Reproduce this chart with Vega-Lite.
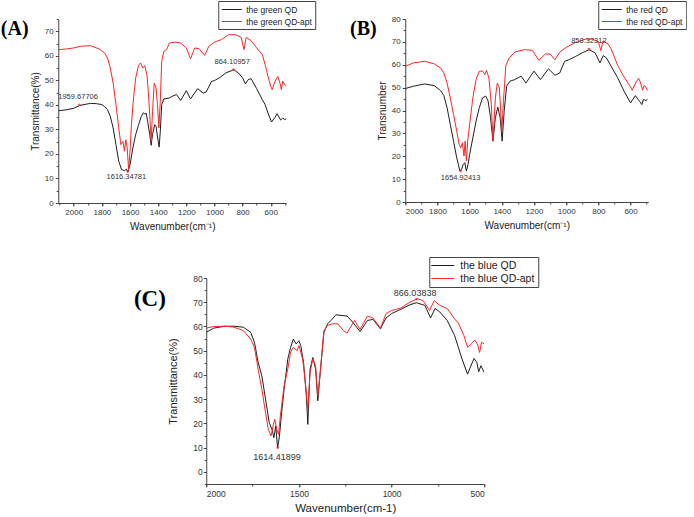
{
"$schema":"https://vega.github.io/schema/vega-lite/v6.json",
"background":"white",
"padding":{"left":0,"top":0,"right":0,"bottom":0},
"config":{"view":{"stroke":null},
 "axis":{"labelFont":"Liberation Sans","titleFont":"Liberation Sans","labelColor":"#333","titleColor":"#222","domainColor":"#444","tickColor":"#444","grid":false,"labelFontSize":8,"titleFontSize":10,"titleFontWeight":"normal","tickSize":3,"labelPadding":2,"format":"d"},
 "legend":{"labelFont":"Liberation Sans","labelFontSize":8.5,"labelColor":"#222","strokeColor":"#444","fillColor":"white","padding":3,"symbolType":"M-2,0H2","symbolSize":100,"symbolOffset":5,"labelOffset":9,"symbolStrokeWidth":1,"rowPadding":2,"title":null},
 "title":{"font":"Liberation Serif","fontSize":20,"fontWeight":"bold","color":"#000"}
},
"datasets":{
"A":[
{"w":2109,"t":37.6,"s":"the green QD"},{"w":2050,"t":38.0,"s":"the green QD"},{"w":2000,"t":38.6,"s":"the green QD"},{"w":1960,"t":39.7,"s":"the green QD"},{"w":1920,"t":40.2,"s":"the green QD"},{"w":1880,"t":40.6,"s":"the green QD"},{"w":1840,"t":40.5,"s":"the green QD"},{"w":1800,"t":40.1,"s":"the green QD"},{"w":1780,"t":39.3,"s":"the green QD"},{"w":1760,"t":38,"s":"the green QD"},{"w":1740,"t":35.3,"s":"the green QD"},{"w":1720,"t":30.6,"s":"the green QD"},{"w":1700,"t":23.8,"s":"the green QD"},{"w":1680,"t":17,"s":"the green QD"},{"w":1660,"t":13.6,"s":"the green QD"},{"w":1640,"t":13.2,"s":"the green QD"},{"w":1625,"t":13.8,"s":"the green QD"},{"w":1616,"t":12.6,"s":"the green QD"},{"w":1600,"t":15.6,"s":"the green QD"},{"w":1580,"t":22.4,"s":"the green QD"},{"w":1560,"t":27.9,"s":"the green QD"},{"w":1540,"t":31.7,"s":"the green QD"},{"w":1520,"t":35.3,"s":"the green QD"},{"w":1505,"t":36.8,"s":"the green QD"},{"w":1495,"t":36.2,"s":"the green QD"},{"w":1485,"t":36.6,"s":"the green QD"},{"w":1475,"t":33.3,"s":"the green QD"},{"w":1460,"t":27.9,"s":"the green QD"},{"w":1450,"t":23.5,"s":"the green QD"},{"w":1440,"t":27.9,"s":"the green QD"},{"w":1425,"t":31.9,"s":"the green QD"},{"w":1415,"t":31.2,"s":"the green QD"},{"w":1400,"t":25.1,"s":"the green QD"},{"w":1393,"t":22.8,"s":"the green QD"},{"w":1385,"t":29.2,"s":"the green QD"},{"w":1375,"t":40,"s":"the green QD"},{"w":1360,"t":42.4,"s":"the green QD"},{"w":1320,"t":42.8,"s":"the green QD"},{"w":1300,"t":43.5,"s":"the green QD"},{"w":1270,"t":44.2,"s":"the green QD"},{"w":1240,"t":41.8,"s":"the green QD"},{"w":1200,"t":45.8,"s":"the green QD"},{"w":1170,"t":42.4,"s":"the green QD"},{"w":1120,"t":46.6,"s":"the green QD"},{"w":1080,"t":44.8,"s":"the green QD"},{"w":1060,"t":45.2,"s":"the green QD"},{"w":1020,"t":49.6,"s":"the green QD"},{"w":1000,"t":49.9,"s":"the green QD"},{"w":960,"t":51.2,"s":"the green QD"},{"w":920,"t":53,"s":"the green QD"},{"w":864,"t":54.3,"s":"the green QD"},{"w":830,"t":53,"s":"the green QD"},{"w":800,"t":51,"s":"the green QD"},{"w":780,"t":48.5,"s":"the green QD"},{"w":760,"t":50.3,"s":"the green QD"},{"w":740,"t":50.7,"s":"the green QD"},{"w":700,"t":46.6,"s":"the green QD"},{"w":660,"t":42.1,"s":"the green QD"},{"w":640,"t":40.1,"s":"the green QD"},{"w":620,"t":36.7,"s":"the green QD"},{"w":595,"t":33,"s":"the green QD"},{"w":570,"t":34.9,"s":"the green QD"},{"w":555,"t":36.4,"s":"the green QD"},{"w":530,"t":33.8,"s":"the green QD"},{"w":515,"t":34.6,"s":"the green QD"},{"w":500,"t":34,"s":"the green QD"},{"w":490,"t":34.4,"s":"the green QD"},
{"w":2109,"t":62.5,"s":"the green QD-apt"},{"w":2050,"t":62.8,"s":"the green QD-apt"},{"w":2000,"t":63.2,"s":"the green QD-apt"},{"w":1950,"t":63.9,"s":"the green QD-apt"},{"w":1880,"t":64.1,"s":"the green QD-apt"},{"w":1820,"t":62.8,"s":"the green QD-apt"},{"w":1780,"t":61.1,"s":"the green QD-apt"},{"w":1760,"t":59.1,"s":"the green QD-apt"},{"w":1740,"t":55,"s":"the green QD-apt"},{"w":1720,"t":48.9,"s":"the green QD-apt"},{"w":1700,"t":40.1,"s":"the green QD-apt"},{"w":1680,"t":30.6,"s":"the green QD-apt"},{"w":1665,"t":23.8,"s":"the green QD-apt"},{"w":1650,"t":25.1,"s":"the green QD-apt"},{"w":1640,"t":21.1,"s":"the green QD-apt"},{"w":1630,"t":25.8,"s":"the green QD-apt"},{"w":1620,"t":22.4,"s":"the green QD-apt"},{"w":1610,"t":13.6,"s":"the green QD-apt"},{"w":1600,"t":21.1,"s":"the green QD-apt"},{"w":1590,"t":31.9,"s":"the green QD-apt"},{"w":1575,"t":42.8,"s":"the green QD-apt"},{"w":1560,"t":50.9,"s":"the green QD-apt"},{"w":1540,"t":56.1,"s":"the green QD-apt"},{"w":1525,"t":57.1,"s":"the green QD-apt"},{"w":1510,"t":55,"s":"the green QD-apt"},{"w":1495,"t":56,"s":"the green QD-apt"},{"w":1480,"t":52.3,"s":"the green QD-apt"},{"w":1470,"t":45.5,"s":"the green QD-apt"},{"w":1460,"t":36,"s":"the green QD-apt"},{"w":1450,"t":25.1,"s":"the green QD-apt"},{"w":1440,"t":37.4,"s":"the green QD-apt"},{"w":1428,"t":48.9,"s":"the green QD-apt"},{"w":1415,"t":46.9,"s":"the green QD-apt"},{"w":1405,"t":40.1,"s":"the green QD-apt"},{"w":1395,"t":30.6,"s":"the green QD-apt"},{"w":1385,"t":41.4,"s":"the green QD-apt"},{"w":1375,"t":57.7,"s":"the green QD-apt"},{"w":1360,"t":61.8,"s":"the green QD-apt"},{"w":1340,"t":62.5,"s":"the green QD-apt"},{"w":1320,"t":65.2,"s":"the green QD-apt"},{"w":1280,"t":65.6,"s":"the green QD-apt"},{"w":1240,"t":65.2,"s":"the green QD-apt"},{"w":1200,"t":63.2,"s":"the green QD-apt"},{"w":1170,"t":58.8,"s":"the green QD-apt"},{"w":1140,"t":63.2,"s":"the green QD-apt"},{"w":1110,"t":62.9,"s":"the green QD-apt"},{"w":1070,"t":60.2,"s":"the green QD-apt"},{"w":1040,"t":63.9,"s":"the green QD-apt"},{"w":1000,"t":65.6,"s":"the green QD-apt"},{"w":950,"t":66.6,"s":"the green QD-apt"},{"w":900,"t":68.6,"s":"the green QD-apt"},{"w":850,"t":68.6,"s":"the green QD-apt"},{"w":810,"t":67.5,"s":"the green QD-apt"},{"w":790,"t":62.5,"s":"the green QD-apt"},{"w":775,"t":67.5,"s":"the green QD-apt"},{"w":740,"t":66.2,"s":"the green QD-apt"},{"w":700,"t":63.2,"s":"the green QD-apt"},{"w":660,"t":60.5,"s":"the green QD-apt"},{"w":640,"t":56.4,"s":"the green QD-apt"},{"w":620,"t":51.6,"s":"the green QD-apt"},{"w":600,"t":47.6,"s":"the green QD-apt"},{"w":590,"t":46.2,"s":"the green QD-apt"},{"w":570,"t":49.6,"s":"the green QD-apt"},{"w":550,"t":51.6,"s":"the green QD-apt"},{"w":535,"t":48.9,"s":"the green QD-apt"},{"w":525,"t":46.2,"s":"the green QD-apt"},{"w":515,"t":49.6,"s":"the green QD-apt"},{"w":500,"t":48.2,"s":"the green QD-apt"},{"w":490,"t":47.6,"s":"the green QD-apt"}
],
"Am":[{"w":1960,"t":40},{"w":1616,"t":12.8},{"w":864,"t":54.3}],
"Al":[{"w":1969,"t":43.2,"label":"1959.67706"},{"w":1626,"t":10.5,"label":"1616.34781"},{"w":874,"t":57.5,"label":"864.10957"}],
"B":[
{"w":2000,"t":49.6,"s":"the red QD"},{"w":1950,"t":50.6,"s":"the red QD"},{"w":1880,"t":51.6,"s":"the red QD"},{"w":1820,"t":50.9,"s":"the red QD"},{"w":1780,"t":48.7,"s":"the red QD"},{"w":1760,"t":46.5,"s":"the red QD"},{"w":1740,"t":41.2,"s":"the red QD"},{"w":1720,"t":33.9,"s":"the red QD"},{"w":1700,"t":26.6,"s":"the red QD"},{"w":1680,"t":19.3,"s":"the red QD"},{"w":1660,"t":13.5,"s":"the red QD"},{"w":1650,"t":14.3,"s":"the red QD"},{"w":1640,"t":16.4,"s":"the red QD"},{"w":1630,"t":17.2,"s":"the red QD"},{"w":1620,"t":13.5,"s":"the red QD"},{"w":1610,"t":16.4,"s":"the red QD"},{"w":1600,"t":20.7,"s":"the red QD"},{"w":1580,"t":28.1,"s":"the red QD"},{"w":1560,"t":35.3,"s":"the red QD"},{"w":1540,"t":41.2,"s":"the red QD"},{"w":1520,"t":45.5,"s":"the red QD"},{"w":1500,"t":46.3,"s":"the red QD"},{"w":1485,"t":44.1,"s":"the red QD"},{"w":1470,"t":36.8,"s":"the red QD"},{"w":1455,"t":26.6,"s":"the red QD"},{"w":1440,"t":36.8,"s":"the red QD"},{"w":1425,"t":41.5,"s":"the red QD"},{"w":1410,"t":36.8,"s":"the red QD"},{"w":1398,"t":26.6,"s":"the red QD"},{"w":1385,"t":40,"s":"the red QD"},{"w":1370,"t":50.6,"s":"the red QD"},{"w":1350,"t":52.8,"s":"the red QD"},{"w":1320,"t":53.5,"s":"the red QD"},{"w":1280,"t":55,"s":"the red QD"},{"w":1250,"t":52,"s":"the red QD"},{"w":1200,"t":57.2,"s":"the red QD"},{"w":1160,"t":53.5,"s":"the red QD"},{"w":1110,"t":58.2,"s":"the red QD"},{"w":1070,"t":55.4,"s":"the red QD"},{"w":1040,"t":56.4,"s":"the red QD"},{"w":1010,"t":61.5,"s":"the red QD"},{"w":980,"t":62.3,"s":"the red QD"},{"w":940,"t":63.7,"s":"the red QD"},{"w":900,"t":65.2,"s":"the red QD"},{"w":858,"t":66.6,"s":"the red QD"},{"w":820,"t":65.2,"s":"the red QD"},{"w":790,"t":60.8,"s":"the red QD"},{"w":770,"t":64,"s":"the red QD"},{"w":750,"t":63,"s":"the red QD"},{"w":720,"t":59.3,"s":"the red QD"},{"w":680,"t":54.3,"s":"the red QD"},{"w":640,"t":48.4,"s":"the red QD"},{"w":600,"t":43.3,"s":"the red QD"},{"w":570,"t":46.5,"s":"the red QD"},{"w":545,"t":44.1,"s":"the red QD"},{"w":530,"t":42.6,"s":"the red QD"},{"w":520,"t":44.8,"s":"the red QD"},{"w":505,"t":44.4,"s":"the red QD"},{"w":495,"t":44.8,"s":"the red QD"},
{"w":2000,"t":59.3,"s":"the red QD-apt"},{"w":1950,"t":60.8,"s":"the red QD-apt"},{"w":1880,"t":61.5,"s":"the red QD-apt"},{"w":1820,"t":60.4,"s":"the red QD-apt"},{"w":1780,"t":58.6,"s":"the red QD-apt"},{"w":1760,"t":56.4,"s":"the red QD-apt"},{"w":1740,"t":52,"s":"the red QD-apt"},{"w":1720,"t":45.5,"s":"the red QD-apt"},{"w":1700,"t":38.3,"s":"the red QD-apt"},{"w":1680,"t":31,"s":"the red QD-apt"},{"w":1665,"t":25.2,"s":"the red QD-apt"},{"w":1655,"t":23.7,"s":"the red QD-apt"},{"w":1645,"t":25.9,"s":"the red QD-apt"},{"w":1635,"t":20.1,"s":"the red QD-apt"},{"w":1628,"t":26.6,"s":"the red QD-apt"},{"w":1620,"t":17.9,"s":"the red QD-apt"},{"w":1612,"t":26.6,"s":"the red QD-apt"},{"w":1600,"t":33.9,"s":"the red QD-apt"},{"w":1580,"t":45.5,"s":"the red QD-apt"},{"w":1560,"t":53.5,"s":"the red QD-apt"},{"w":1540,"t":57.2,"s":"the red QD-apt"},{"w":1520,"t":57.2,"s":"the red QD-apt"},{"w":1505,"t":55.7,"s":"the red QD-apt"},{"w":1495,"t":57.6,"s":"the red QD-apt"},{"w":1480,"t":54.2,"s":"the red QD-apt"},{"w":1465,"t":42.6,"s":"the red QD-apt"},{"w":1455,"t":26.6,"s":"the red QD-apt"},{"w":1440,"t":45.5,"s":"the red QD-apt"},{"w":1428,"t":52,"s":"the red QD-apt"},{"w":1415,"t":49.8,"s":"the red QD-apt"},{"w":1400,"t":31,"s":"the red QD-apt"},{"w":1390,"t":43.9,"s":"the red QD-apt"},{"w":1375,"t":59.7,"s":"the red QD-apt"},{"w":1355,"t":62.9,"s":"the red QD-apt"},{"w":1320,"t":65.5,"s":"the red QD-apt"},{"w":1260,"t":66.6,"s":"the red QD-apt"},{"w":1210,"t":66.3,"s":"the red QD-apt"},{"w":1170,"t":61.9,"s":"the red QD-apt"},{"w":1130,"t":64.7,"s":"the red QD-apt"},{"w":1100,"t":64.7,"s":"the red QD-apt"},{"w":1070,"t":62.2,"s":"the red QD-apt"},{"w":1040,"t":65.5,"s":"the red QD-apt"},{"w":1000,"t":67.6,"s":"the red QD-apt"},{"w":950,"t":69.5,"s":"the red QD-apt"},{"w":880,"t":71.2,"s":"the red QD-apt"},{"w":840,"t":71.2,"s":"the red QD-apt"},{"w":800,"t":70.1,"s":"the red QD-apt"},{"w":785,"t":66.2,"s":"the red QD-apt"},{"w":770,"t":70.5,"s":"the red QD-apt"},{"w":740,"t":69.1,"s":"the red QD-apt"},{"w":720,"t":66.9,"s":"the red QD-apt"},{"w":680,"t":59.7,"s":"the red QD-apt"},{"w":640,"t":54.6,"s":"the red QD-apt"},{"w":600,"t":50.3,"s":"the red QD-apt"},{"w":590,"t":48.8,"s":"the red QD-apt"},{"w":565,"t":52.5,"s":"the red QD-apt"},{"w":550,"t":54.1,"s":"the red QD-apt"},{"w":540,"t":52.6,"s":"the red QD-apt"},{"w":525,"t":48.9,"s":"the red QD-apt"},{"w":515,"t":51,"s":"the red QD-apt"},{"w":505,"t":50.3,"s":"the red QD-apt"},{"w":495,"t":48.8,"s":"the red QD-apt"}
],
"Bm":[{"w":1655,"t":13.5},{"w":858,"t":66.8}],
"Bl":[{"w":1656,"t":10.6,"label":"1654.92413"},{"w":859,"t":70.3,"label":"858.32312"}],
"C":[
{"w":2000,"t":57.6,"s":"the blue QD"},{"w":1960,"t":59.3,"s":"the blue QD"},{"w":1900,"t":60.1,"s":"the blue QD"},{"w":1850,"t":60.1,"s":"the blue QD"},{"w":1800,"t":59.7,"s":"the blue QD"},{"w":1760,"t":57.6,"s":"the blue QD"},{"w":1740,"t":53.5,"s":"the blue QD"},{"w":1720,"t":45.2,"s":"the blue QD"},{"w":1700,"t":39.6,"s":"the blue QD"},{"w":1680,"t":30,"s":"the blue QD"},{"w":1660,"t":20.3,"s":"the blue QD"},{"w":1645,"t":17.5,"s":"the blue QD"},{"w":1635,"t":14.1,"s":"the blue QD"},{"w":1625,"t":18.9,"s":"the blue QD"},{"w":1615,"t":9.9,"s":"the blue QD"},{"w":1605,"t":14.8,"s":"the blue QD"},{"w":1595,"t":23.1,"s":"the blue QD"},{"w":1580,"t":34.1,"s":"the blue QD"},{"w":1560,"t":46.6,"s":"the blue QD"},{"w":1545,"t":51.4,"s":"the blue QD"},{"w":1530,"t":54.8,"s":"the blue QD"},{"w":1515,"t":52.8,"s":"the blue QD"},{"w":1500,"t":54.1,"s":"the blue QD"},{"w":1490,"t":52.1,"s":"the blue QD"},{"w":1475,"t":45.2,"s":"the blue QD"},{"w":1460,"t":31.4,"s":"the blue QD"},{"w":1452,"t":19.6,"s":"the blue QD"},{"w":1440,"t":42.4,"s":"the blue QD"},{"w":1425,"t":47.2,"s":"the blue QD"},{"w":1410,"t":42.4,"s":"the blue QD"},{"w":1398,"t":29.3,"s":"the blue QD"},{"w":1385,"t":41,"s":"the blue QD"},{"w":1365,"t":57.6,"s":"the blue QD"},{"w":1345,"t":61.1,"s":"the blue QD"},{"w":1320,"t":63.1,"s":"the blue QD"},{"w":1300,"t":64.8,"s":"the blue QD"},{"w":1240,"t":64.3,"s":"the blue QD"},{"w":1210,"t":61.8,"s":"the blue QD"},{"w":1170,"t":57.9,"s":"the blue QD"},{"w":1130,"t":62.5,"s":"the blue QD"},{"w":1100,"t":62.9,"s":"the blue QD"},{"w":1060,"t":59,"s":"the blue QD"},{"w":1030,"t":63.5,"s":"the blue QD"},{"w":1000,"t":65.3,"s":"the blue QD"},{"w":950,"t":67.1,"s":"the blue QD"},{"w":900,"t":69,"s":"the blue QD"},{"w":866,"t":69.8,"s":"the blue QD"},{"w":820,"t":68.7,"s":"the blue QD"},{"w":790,"t":63.5,"s":"the blue QD"},{"w":765,"t":67.4,"s":"the blue QD"},{"w":740,"t":66,"s":"the blue QD"},{"w":700,"t":62.5,"s":"the blue QD"},{"w":660,"t":56.3,"s":"the blue QD"},{"w":620,"t":46.6,"s":"the blue QD"},{"w":590,"t":40.3,"s":"the blue QD"},{"w":570,"t":44.1,"s":"the blue QD"},{"w":555,"t":46.8,"s":"the blue QD"},{"w":540,"t":45.2,"s":"the blue QD"},{"w":530,"t":41.3,"s":"the blue QD"},{"w":518,"t":43.8,"s":"the blue QD"},{"w":500,"t":41,"s":"the blue QD"},
{"w":2000,"t":59.3,"s":"the blue QD-apt"},{"w":1960,"t":60,"s":"the blue QD-apt"},{"w":1900,"t":60.1,"s":"the blue QD-apt"},{"w":1850,"t":59.7,"s":"the blue QD-apt"},{"w":1800,"t":58.3,"s":"the blue QD-apt"},{"w":1760,"t":54.8,"s":"the blue QD-apt"},{"w":1740,"t":51.4,"s":"the blue QD-apt"},{"w":1720,"t":42.4,"s":"the blue QD-apt"},{"w":1700,"t":34.1,"s":"the blue QD-apt"},{"w":1680,"t":24.4,"s":"the blue QD-apt"},{"w":1665,"t":17.5,"s":"the blue QD-apt"},{"w":1650,"t":14.8,"s":"the blue QD-apt"},{"w":1640,"t":18.9,"s":"the blue QD-apt"},{"w":1630,"t":21.7,"s":"the blue QD-apt"},{"w":1620,"t":17.5,"s":"the blue QD-apt"},{"w":1610,"t":15.5,"s":"the blue QD-apt"},{"w":1600,"t":23.1,"s":"the blue QD-apt"},{"w":1580,"t":35.5,"s":"the blue QD-apt"},{"w":1560,"t":42.4,"s":"the blue QD-apt"},{"w":1545,"t":49.4,"s":"the blue QD-apt"},{"w":1530,"t":51.4,"s":"the blue QD-apt"},{"w":1510,"t":50,"s":"the blue QD-apt"},{"w":1500,"t":52.1,"s":"the blue QD-apt"},{"w":1480,"t":46.6,"s":"the blue QD-apt"},{"w":1465,"t":36.9,"s":"the blue QD-apt"},{"w":1452,"t":25.8,"s":"the blue QD-apt"},{"w":1440,"t":41,"s":"the blue QD-apt"},{"w":1425,"t":46.6,"s":"the blue QD-apt"},{"w":1410,"t":43.8,"s":"the blue QD-apt"},{"w":1398,"t":31.4,"s":"the blue QD-apt"},{"w":1385,"t":41,"s":"the blue QD-apt"},{"w":1365,"t":58.3,"s":"the blue QD-apt"},{"w":1345,"t":60.4,"s":"the blue QD-apt"},{"w":1320,"t":61.1,"s":"the blue QD-apt"},{"w":1290,"t":61.1,"s":"the blue QD-apt"},{"w":1260,"t":58.3,"s":"the blue QD-apt"},{"w":1240,"t":57.3,"s":"the blue QD-apt"},{"w":1200,"t":62.5,"s":"the blue QD-apt"},{"w":1170,"t":58.8,"s":"the blue QD-apt"},{"w":1130,"t":64.3,"s":"the blue QD-apt"},{"w":1100,"t":63.5,"s":"the blue QD-apt"},{"w":1060,"t":59.3,"s":"the blue QD-apt"},{"w":1030,"t":65.3,"s":"the blue QD-apt"},{"w":1000,"t":66.6,"s":"the blue QD-apt"},{"w":950,"t":67.6,"s":"the blue QD-apt"},{"w":900,"t":70.1,"s":"the blue QD-apt"},{"w":860,"t":71.4,"s":"the blue QD-apt"},{"w":830,"t":70.7,"s":"the blue QD-apt"},{"w":795,"t":66.6,"s":"the blue QD-apt"},{"w":770,"t":70.7,"s":"the blue QD-apt"},{"w":740,"t":68.7,"s":"the blue QD-apt"},{"w":700,"t":67.4,"s":"the blue QD-apt"},{"w":660,"t":63.1,"s":"the blue QD-apt"},{"w":640,"t":61.4,"s":"the blue QD-apt"},{"w":610,"t":56.3,"s":"the blue QD-apt"},{"w":590,"t":51.4,"s":"the blue QD-apt"},{"w":570,"t":52.8,"s":"the blue QD-apt"},{"w":550,"t":54.4,"s":"the blue QD-apt"},{"w":535,"t":52.4,"s":"the blue QD-apt"},{"w":525,"t":49.3,"s":"the blue QD-apt"},{"w":515,"t":53.5,"s":"the blue QD-apt"},{"w":500,"t":52.8,"s":"the blue QD-apt"}
],
"Cm":[{"w":1614,"t":10},{"w":866,"t":71.3}],
"Cl":[{"w":1618,"t":6.1,"label":"1614.41899"},{"w":873,"t":73.8,"label":"866.03838"}]
},
"vconcat":[
{"hconcat":[
{"width":228,"height":184,
 "title":{"text":"(A)","orient":"left","angle":0,"anchor":"end","align":"right","baseline":"top","offset":-2,"dx":24,"dy":18},
 "layer":[
  {"data":{"name":"A"},"mark":{"type":"line","strokeWidth":1,"clip":true},
   "encoding":{
    "x":{"field":"w","type":"quantitative","scale":{"domain":[490,2110],"reverse":true,"nice":false,"zero":false},"axis":{"orient":"bottom","values":[2000,1800,1600,1400,1200,1000,800,600],"title":"Wavenumber(cm⁻¹)","titlePadding":5}},
    "y":{"field":"t","type":"quantitative","scale":{"domain":[0,75],"nice":false,"zero":false},"axis":{"orient":"left","values":[0,10,20,30,40,50,60,70],"title":"Transmittance(%)","titlePadding":4}},
    "color":{"field":"s","type":"nominal","scale":{"domain":["the green QD","the green QD-apt"],"range":["#1e1e1e","#ff2525"]},"legend":{"orient":"none","legendX":160,"legendY":-18}}}},
  {"data":{"name":"Am"},"mark":{"type":"point","filled":true,"size":8,"color":"#ff2525"},
   "encoding":{
    "x":{"field":"w","type":"quantitative","axis":{"orient":"bottom","values":[2100,2000,1900,1800,1700,1600,1500,1400,1300,1200,1100,1000,900,800,700,600,500],"labels":false,"domain":false,"title":null,"tickSize":2}},
    "y":{"field":"t","type":"quantitative","axis":{"orient":"left","values":[0,5,10,15,20,25,30,35,40,45,50,55,60,65,70,75],"labels":false,"domain":false,"title":null,"tickSize":2}}}},
  {"data":{"name":"Al"},"mark":{"type":"text","fontSize":7.5,"font":"Liberation Sans","color":"#333"},
   "encoding":{"x":{"field":"w","type":"quantitative","axis":null},"y":{"field":"t","type":"quantitative","axis":null},"text":{"field":"label"}}}
 ],
 "resolve":{"axis":{"x":"independent","y":"independent"}}
},
{"width":243,"height":183,
 "title":{"text":"(B)","orient":"left","angle":0,"anchor":"end","align":"right","baseline":"top","offset":-2,"dx":24,"dy":18},
 "layer":[
  {"data":{"name":"B"},"mark":{"type":"line","strokeWidth":1,"clip":true},
   "encoding":{
    "x":{"field":"w","type":"quantitative","scale":{"domain":[490,2000],"reverse":true,"nice":false,"zero":false},"axis":{"orient":"bottom","values":[2000,1800,1600,1400,1200,1000,800,600],"title":"Wavenumber(cm⁻¹)","titlePadding":5}},
    "y":{"field":"t","type":"quantitative","scale":{"domain":[0,80],"nice":false,"zero":false},"axis":{"orient":"left","values":[0,10,20,30,40,50,60,70,80],"title":"Transnumber","titlePadding":4}},
    "color":{"field":"s","type":"nominal","scale":{"domain":["the red QD","the red QD-apt"],"range":["#1e1e1e","#ff2525"]},"legend":{"orient":"none","legendX":193,"legendY":-18}}}},
  {"data":{"name":"Bm"},"mark":{"type":"point","filled":true,"size":8,"color":"#ff2525"},
   "encoding":{
    "x":{"field":"w","type":"quantitative","axis":{"orient":"bottom","values":[2000,1900,1800,1700,1600,1500,1400,1300,1200,1100,1000,900,800,700,600,500],"labels":false,"domain":false,"title":null,"tickSize":2}},
    "y":{"field":"t","type":"quantitative","axis":{"orient":"left","values":[0,5,10,15,20,25,30,35,40,45,50,55,60,65,70,75,80],"labels":false,"domain":false,"title":null,"tickSize":2}}}},
  {"data":{"name":"Bl"},"mark":{"type":"text","fontSize":7.5,"font":"Liberation Sans","color":"#333"},
   "encoding":{"x":{"field":"w","type":"quantitative","axis":null},"y":{"field":"t","type":"quantitative","axis":null},"text":{"field":"label"}}}
 ],
 "resolve":{"axis":{"x":"independent","y":"independent"}}
}
],"spacing":33,"resolve":{"scale":{"color":"independent"},"legend":{"color":"independent"}}},
{"width":278,"height":206,
 "title":{"text":"(C)","orient":"left","angle":0,"anchor":"end","align":"right","baseline":"top","offset":-2,"dx":28,"dy":31,"fontSize":23},
 "layer":[
  {"data":{"name":"C"},"mark":{"type":"line","strokeWidth":1,"clip":true},
   "encoding":{
    "x":{"field":"w","type":"quantitative","scale":{"domain":[500,2000],"reverse":true,"nice":false,"zero":false},"axis":{"orient":"bottom","values":[2000,1500,1000,500],"title":"Wavenumber(cm-1)","titleFontSize":11.5,"labelFontSize":8.5,"titlePadding":5}},
    "y":{"field":"t","type":"quantitative","scale":{"domain":[-5,80],"nice":false,"zero":false},"axis":{"orient":"left","values":[0,10,20,30,40,50,60,70,80],"title":"Transmittance(%)","titleFontSize":11,"labelFontSize":8.5,"titlePadding":14,"labelPadding":1}},
    "color":{"field":"s","type":"nominal","scale":{"domain":["the blue QD","the blue QD-apt"],"range":["#1e1e1e","#ff2525"]},"legend":{"orient":"none","legendX":223,"legendY":-21,"labelFontSize":10.5,"symbolType":"M-2.3,0H2.3","labelOffset":12}}}},
  {"data":{"name":"Cm"},"mark":{"type":"point","filled":true,"size":8,"color":"#ff2525"},
   "encoding":{
    "x":{"field":"w","type":"quantitative","axis":{"orient":"bottom","values":[2000,1750,1500,1250,1000,750,500],"labels":false,"domain":false,"title":null,"tickSize":2}},
    "y":{"field":"t","type":"quantitative","axis":{"orient":"left","values":[-5,0,5,10,15,20,25,30,35,40,45,50,55,60,65,70,75,80],"labels":false,"domain":false,"title":null,"tickSize":2}}}},
  {"data":{"name":"Cl"},"mark":{"type":"text","fontSize":9,"font":"Liberation Sans","color":"#333"},
   "encoding":{"x":{"field":"w","type":"quantitative","axis":null},"y":{"field":"t","type":"quantitative","axis":null},"text":{"field":"label"}}}
 ],
 "resolve":{"axis":{"x":"independent","y":"independent"}}
}
],
"spacing":25,
"center":true,
"resolve":{"scale":{"color":"independent"},"legend":{"color":"independent"}}
}
